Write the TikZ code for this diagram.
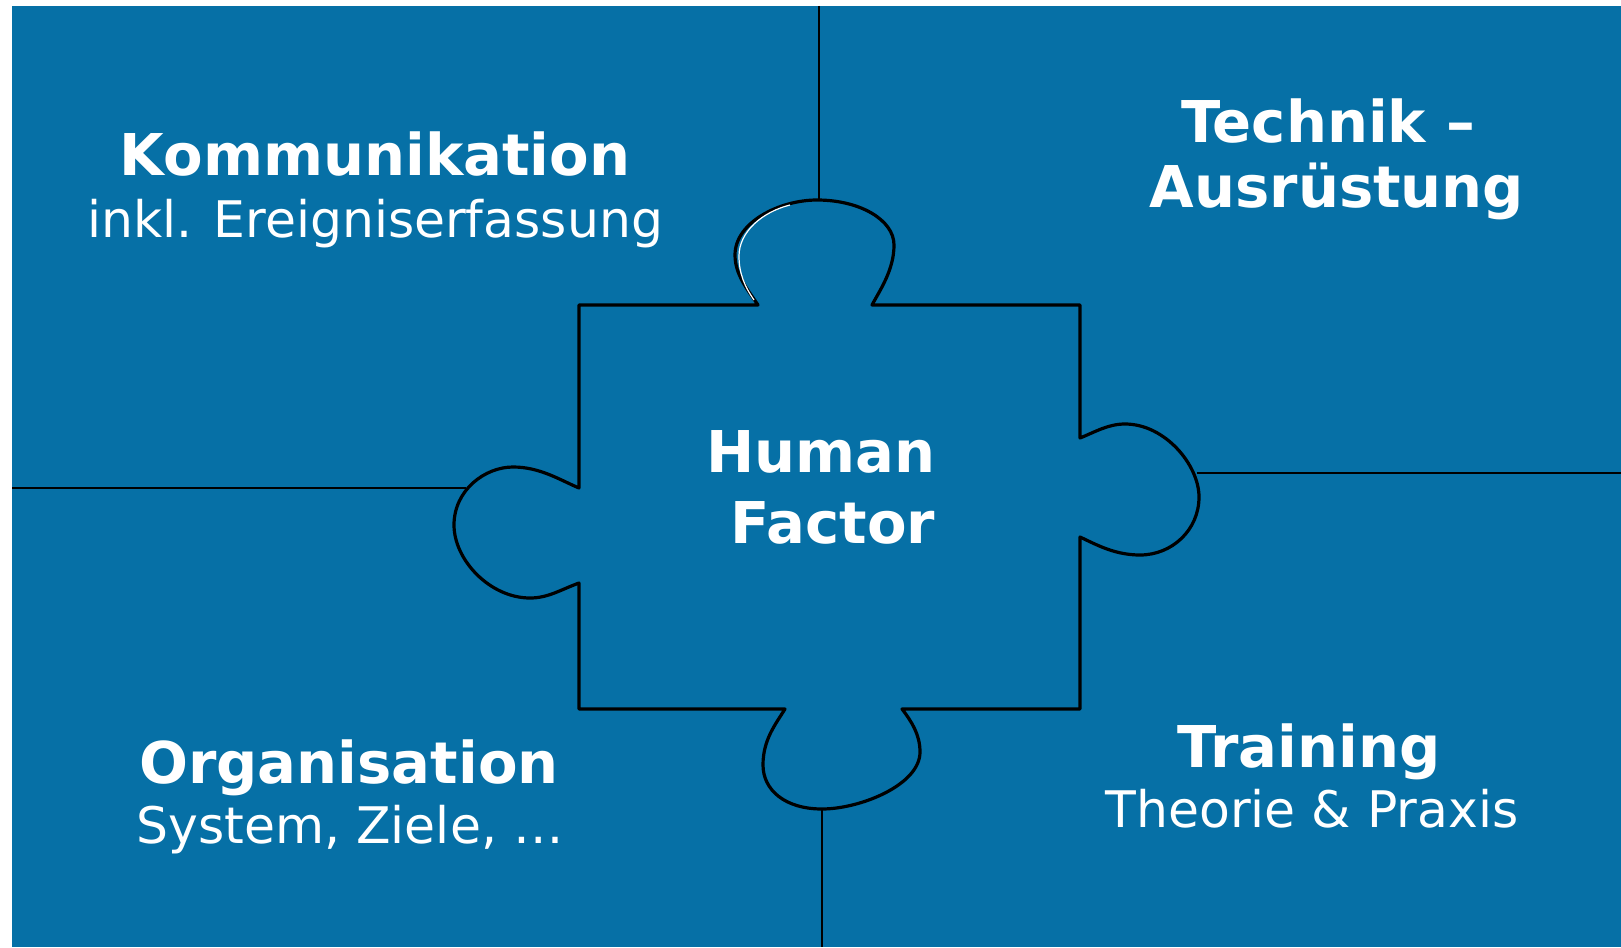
\documentclass[tikz,border=0pt]{standalone}
\usepackage{fontspec}
\setmainfont{DejaVu Sans}
\definecolor{hfblue}{RGB}{6,112,166}
\tikzset{
  titel/.style={text=white, font=\bfseries\fontsize{28.8}{30}\selectfont, anchor=base, inner sep=0pt},
  untertitel/.style={text=white, font=\fontsize{25.2}{28}\selectfont, anchor=base, inner sep=0pt},
  teiler/.style={black, line width=1.2pt},
  puzzle/.style={black, line width=1.6pt, line join=round}
}
\begin{document}
\begin{tikzpicture}[x=0.5pt, y=-0.5pt]
  \useasboundingbox[fill=white] (0,0) rectangle (1621,947);
  \fill[hfblue] (12,6) rectangle (1621,947);

  % Trennlinien der vier Felder
  \draw[teiler] (819,6) -- (819,200);
  \draw[teiler] (12,488) -- (466,488);
  \draw[teiler] (1197,473) -- (1621,473);
  \draw[teiler] (822,809) -- (822,947);

  % Puzzleteil in der Mitte
  \draw[puzzle] (579,305) -- (758,305)
    .. controls (748,290) and (735,275) .. (735,255)
    .. controls (735,222) and (780,200) .. (817,200)
    .. controls (860,200) and (894,220) .. (894,245)
    .. controls (894,270) and (880,290) .. (872,305)
    -- (1080,305) -- (1080,438)
    .. controls (1095,432) and (1108,424) .. (1125,424)
    .. controls (1165,424) and (1199,465) .. (1199,497)
    .. controls (1199,530) and (1172,555) .. (1140,555)
    .. controls (1115,555) and (1097,545) .. (1080,537)
    -- (1080,709) -- (902,709)
    .. controls (912,722) and (920,735) .. (920,752)
    .. controls (920,785) and (860,809) .. (822,809)
    .. controls (785,809) and (763,790) .. (763,765)
    .. controls (763,740) and (775,725) .. (785,709)
    -- (579,709) -- (579,583)
    .. controls (560,590) and (548,598) .. (530,598)
    .. controls (490,598) and (454,560) .. (454,525)
    .. controls (454,490) and (485,467) .. (513,467)
    .. controls (540,467) and (560,480) .. (579,488)
    -- cycle;
  % heller Glanz am oberen Knopf
  \draw[white, line width=0.6pt] (754,300) .. controls (745,287) and (739,274) .. (739,256)
    .. controls (739,232) and (762,212) .. (790,205);

  \node[titel] (komm) at (375,176) {Kommunikation};
  \node[untertitel] (kommsub) at (375,237) {inkl. Ereigniserfassung};
  \node[titel] (technik) at (1328,142) {Technik –};
  \node[titel] (technik2) at (1337,207) {Ausrüstung};
  \node[titel] (human) at (821,472) {Human};
  \node[titel] (factor) at (833,543) {Factor};
  \node[titel] (orga) at (349,783) {Organisation};
  \node[untertitel] (orgasub) at (350,843) {System, Ziele, …};
  \node[titel] (training) at (1309,767) {Training};
  \node[untertitel] (trainingsub) at (1312,827) {Theorie \& Praxis};
\end{tikzpicture}
\end{document}
